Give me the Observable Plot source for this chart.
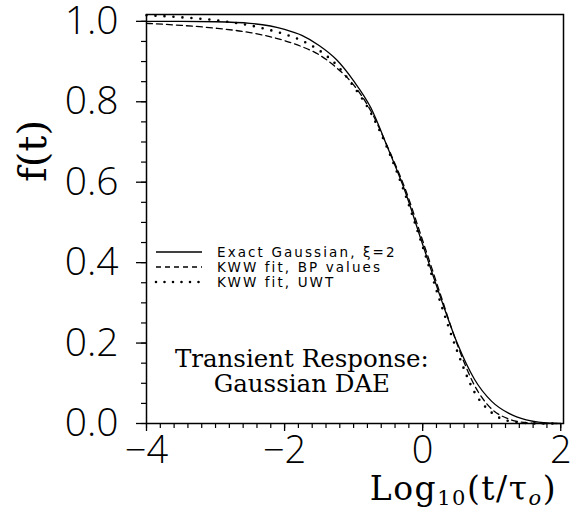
<!DOCTYPE html>
<html>
<head>
<meta charset="utf-8">
<script src="https://cdn.jsdelivr.net/npm/d3@7"></script>
<script src="https://cdn.jsdelivr.net/npm/@observablehq/plot@0.6"></script>
<style>
  html, body { margin: 0; padding: 0; background: #fff; }
  svg { display: block; }
</style>
</head>
<body>
<div id="chart"></div>
<script>
// ---- data ----
const logT = [-4, -3.5, -3, -2.5, -2, -1.75, -1.5, -1.25, -1, -0.75, -0.5, -0.25, 0, 0.25, 0.5, 0.75, 1, 1.25, 1.5, 1.75, 2];
const exactGaussian = [1.000, 1.000, 0.999, 0.995, 0.980, 0.965, 0.940, 0.905, 0.852, 0.785, 0.683, 0.575, 0.445, 0.318, 0.200, 0.110, 0.055, 0.025, 0.009, 0.002, 0.000];
const kwwBP = [0.995, 0.990, 0.983, 0.972, 0.952, 0.937, 0.917, 0.885, 0.842, 0.777, 0.685, 0.582, 0.455, 0.325, 0.197, 0.095, 0.036, 0.011, 0.002, 0.000, 0.000];
const logTUWT = [-4, -3.75, -3.5, -3.25, -3, -2.75, -2.5, -2.25, -2, -1.75, -1.5, -1.25, -1, -0.75, -0.5, -0.25, 0, 0.25, 0.5, 0.75, 1, 1.25, 1.5, 1.75, 2];
const kwwUWT = [1.015, 1.013, 1.010, 1.007, 1.003, 0.997, 0.990, 0.980, 0.968, 0.952, 0.928, 0.892, 0.838, 0.772, 0.680, 0.568, 0.440, 0.305, 0.180, 0.078, 0.027, 0.006, 0.001, 0.000, 0.000];

const seriesNames = ["Exact Gaussian, \u03BE=2", "KWW fit, BP values", "KWW fit, UWT"];
const xTicks = [-4, -2, 0, 2];
const yTicks = [0, 0.2, 0.4, 0.6, 0.8, 1.0];
const xMinorTicks = d3.range(-40, 21, 2).map(d => d / 10);
const yMinorTicks = d3.range(0, 21, 1).map(d => d / 20);
const annotation = ["Transient Response:", "Gaussian DAE"];

const rowsExact = logT.map((x, i) => ({x, y: exactGaussian[i]}));
const rowsBP = logT.map((x, i) => ({x, y: kwwBP[i]}));
const rowsUWT = logTUWT.map((x, i) => ({x, y: kwwUWT[i]}));

const tickFont = "'Open Sans', 'DejaVu Sans', sans-serif";
const legendFont = "'DejaVu Sans', sans-serif";
const serif = "'DejaVu Serif', 'Liberation Serif', serif";

const plot = Plot.plot({
  width: 579,
  height: 513,
  marginLeft: 146,
  marginRight: 16,
  marginTop: 14,
  marginBottom: 90,
  x: {domain: [-4, 2.04]},
  y: {domain: [0, 1.017]},
  style: {background: "white", color: "black"},
  marks: [
    Plot.axisY(yMinorTicks, {tickSize: 5, tickFormat: () => "", label: null, strokeWidth: 1.2}),
    Plot.axisX(xMinorTicks, {tickSize: 5, tickFormat: () => "", label: null, strokeWidth: 1.2}),
    Plot.axisY(yTicks, {tickSize: 10, tickPadding: 18, tickFormat: d3.format(".1f"), label: null,
      fontSize: 39, fontFamily: tickFont, fontWeight: 300, strokeWidth: 1.3}),
    Plot.axisX(xTicks, {tickSize: 8, tickPadding: 5, tickFormat: d3.format("d"), label: null,
      fontSize: 38, fontFamily: tickFont, fontWeight: 300, strokeWidth: 1.3}),
    Plot.line(rowsExact, {x: "x", y: "y", curve: "monotone-x", stroke: "black", strokeWidth: 1.3}),
    Plot.line(rowsBP, {x: "x", y: "y", curve: "monotone-x", stroke: "black", strokeWidth: 1.3, strokeDasharray: "6,4"}),
    Plot.line(rowsUWT, {x: "x", y: "y", curve: "monotone-x", stroke: "black", strokeWidth: 2.6,
      strokeDasharray: "0,9", strokeLinecap: "round"}),
    Plot.text([annotation.join("\n")], {x: () => -1.75, y: () => 0.13, text: d => d,
      fontSize: 24.5, fontFamily: serif, lineHeight: 1.05, textAnchor: "middle", lineAnchor: "middle", fill: "black"}),
    Plot.frame({stroke: "black", strokeWidth: 1.5})
  ]
});

const svg = d3.select(plot);
// legend
const legend = svg.append("g").attr("font-family", legendFont).attr("font-size", 13.5)
  .attr("fill", "black").attr("text-anchor", "start");
const dashes = [null, "5,4", "0,8.5"];
const widths = [1.3, 1.3, 2.6];
seriesNames.forEach((name, i) => {
  const yy = 252 + i * 15;
  legend.append("line").attr("x1", 156).attr("x2", 202).attr("y1", yy).attr("y2", yy)
    .attr("stroke", "black").attr("stroke-width", widths[i])
    .attr("stroke-dasharray", dashes[i]).attr("stroke-linecap", i === 2 ? "round" : "butt");
  legend.append("text").attr("x", 217).attr("y", yy).attr("dy", "0.36em")
    .attr("letter-spacing", "2.1px").text(name);
});
// axis titles
const xt = svg.append("text").attr("x", 557).attr("y", 500).attr("text-anchor", "end")
  .attr("font-family", serif).attr("font-size", 33).attr("letter-spacing", "1.5px").attr("fill", "black");
xt.append("tspan").text("Log");
xt.append("tspan").attr("font-size", 21).attr("dy", 5).text("10");
xt.append("tspan").attr("dy", -5).text("(t/\u03C4");
xt.append("tspan").attr("font-size", 21).attr("dy", 5).attr("font-style", "italic").text("o");
xt.append("tspan").attr("dy", -5).text(")");
svg.append("text").attr("transform", "translate(46,151) rotate(-90)").attr("text-anchor", "middle")
  .attr("font-family", serif).attr("font-size", 40).attr("fill", "black").text("f(t)");

document.getElementById("chart").appendChild(plot);
</script>
</body>
</html>
